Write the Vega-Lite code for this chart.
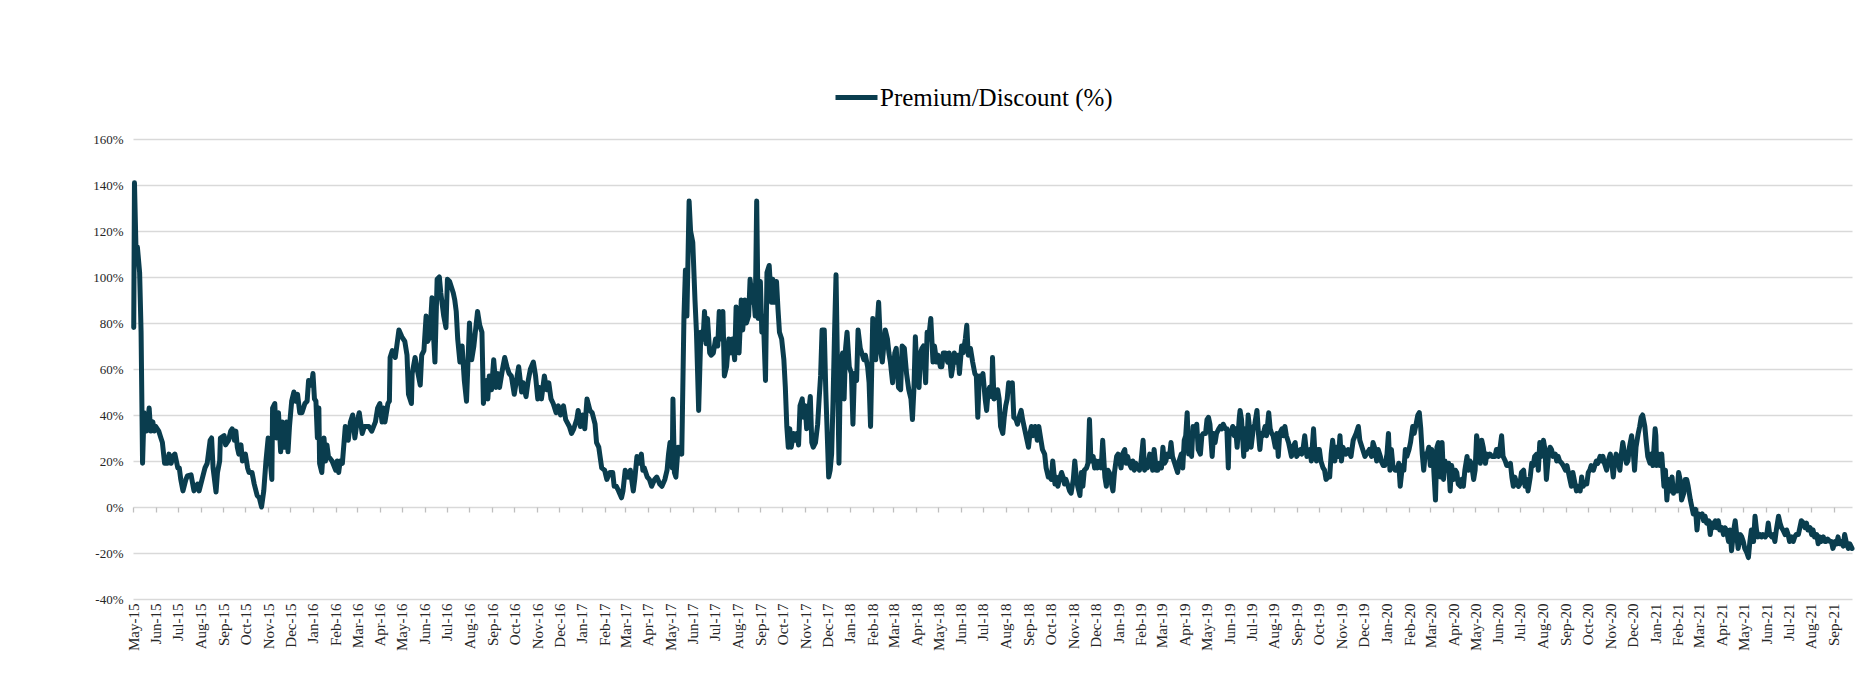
{
  "$schema": "https://vega.github.io/schema/vega-lite/v6.json",
  "width": 1719,
  "height": 460,
  "autosize": {"type": "none"},
  "padding": {"left": 133, "top": 139, "right": 20, "bottom": 82},
  "background": "white",
  "config": {
    "view": {"stroke": null},
    "font": "Liberation Serif"
  },
  "data": {
    "values": [
      {"date": "2015-05-02", "pct": 78}, {"date": "2015-05-03", "pct": 141}, {"date": "2015-05-05", "pct": 113}, {"date": "2015-05-07", "pct": 113},
      {"date": "2015-05-10", "pct": 102}, {"date": "2015-05-12", "pct": 76}, {"date": "2015-05-14", "pct": 19}, {"date": "2015-05-16", "pct": 41},
      {"date": "2015-05-19", "pct": 33}, {"date": "2015-05-21", "pct": 37}, {"date": "2015-05-23", "pct": 43}, {"date": "2015-05-25", "pct": 33},
      {"date": "2015-05-28", "pct": 37}, {"date": "2015-05-30", "pct": 33}, {"date": "2015-06-01", "pct": 35}, {"date": "2015-06-05", "pct": 33},
      {"date": "2015-06-08", "pct": 30}, {"date": "2015-06-10", "pct": 28}, {"date": "2015-06-13", "pct": 19}, {"date": "2015-06-17", "pct": 19},
      {"date": "2015-06-19", "pct": 23}, {"date": "2015-06-22", "pct": 19}, {"date": "2015-06-24", "pct": 22}, {"date": "2015-06-27", "pct": 23},
      {"date": "2015-07-01", "pct": 17}, {"date": "2015-07-03", "pct": 17}, {"date": "2015-07-05", "pct": 12}, {"date": "2015-07-08", "pct": 7},
      {"date": "2015-07-12", "pct": 12}, {"date": "2015-07-14", "pct": 13.5}, {"date": "2015-07-19", "pct": 14}, {"date": "2015-07-23", "pct": 7},
      {"date": "2015-07-28", "pct": 10}, {"date": "2015-07-30", "pct": 7}, {"date": "2015-08-03", "pct": 12}, {"date": "2015-08-07", "pct": 17},
      {"date": "2015-08-10", "pct": 19}, {"date": "2015-08-14", "pct": 29}, {"date": "2015-08-16", "pct": 30}, {"date": "2015-08-18", "pct": 17},
      {"date": "2015-08-22", "pct": 6.5}, {"date": "2015-08-24", "pct": 15}, {"date": "2015-08-27", "pct": 20}, {"date": "2015-08-28", "pct": 30},
      {"date": "2015-09-02", "pct": 31}, {"date": "2015-09-04", "pct": 27}, {"date": "2015-09-08", "pct": 29}, {"date": "2015-09-11", "pct": 33},
      {"date": "2015-09-13", "pct": 34}, {"date": "2015-09-16", "pct": 29}, {"date": "2015-09-18", "pct": 33}, {"date": "2015-09-20", "pct": 26},
      {"date": "2015-09-22", "pct": 23}, {"date": "2015-09-25", "pct": 27}, {"date": "2015-09-27", "pct": 20}, {"date": "2015-10-01", "pct": 23},
      {"date": "2015-10-04", "pct": 17}, {"date": "2015-10-06", "pct": 15}, {"date": "2015-10-10", "pct": 15}, {"date": "2015-10-13", "pct": 10},
      {"date": "2015-10-17", "pct": 5}, {"date": "2015-10-20", "pct": 4}, {"date": "2015-10-23", "pct": 0}, {"date": "2015-10-26", "pct": 7},
      {"date": "2015-10-29", "pct": 20}, {"date": "2015-11-01", "pct": 30}, {"date": "2015-11-03", "pct": 23}, {"date": "2015-11-06", "pct": 12},
      {"date": "2015-11-07", "pct": 43}, {"date": "2015-11-10", "pct": 45}, {"date": "2015-11-12", "pct": 30}, {"date": "2015-11-15", "pct": 41},
      {"date": "2015-11-18", "pct": 24}, {"date": "2015-11-20", "pct": 37}, {"date": "2015-11-23", "pct": 26}, {"date": "2015-11-26", "pct": 37},
      {"date": "2015-11-28", "pct": 24}, {"date": "2015-11-30", "pct": 35}, {"date": "2015-12-03", "pct": 46}, {"date": "2015-12-06", "pct": 50},
      {"date": "2015-12-08", "pct": 46}, {"date": "2015-12-11", "pct": 49}, {"date": "2015-12-14", "pct": 41}, {"date": "2015-12-17", "pct": 41},
      {"date": "2015-12-21", "pct": 45}, {"date": "2015-12-24", "pct": 46}, {"date": "2015-12-26", "pct": 55}, {"date": "2015-12-30", "pct": 53},
      {"date": "2016-01-01", "pct": 58}, {"date": "2016-01-03", "pct": 47}, {"date": "2016-01-05", "pct": 46}, {"date": "2016-01-07", "pct": 30},
      {"date": "2016-01-09", "pct": 43}, {"date": "2016-01-10", "pct": 19}, {"date": "2016-01-13", "pct": 15}, {"date": "2016-01-16", "pct": 30},
      {"date": "2016-01-18", "pct": 20}, {"date": "2016-01-20", "pct": 27}, {"date": "2016-01-22", "pct": 22}, {"date": "2016-01-27", "pct": 20},
      {"date": "2016-02-01", "pct": 16}, {"date": "2016-02-03", "pct": 20}, {"date": "2016-02-05", "pct": 15}, {"date": "2016-02-07", "pct": 20},
      {"date": "2016-02-10", "pct": 19}, {"date": "2016-02-12", "pct": 27}, {"date": "2016-02-14", "pct": 35}, {"date": "2016-02-18", "pct": 29},
      {"date": "2016-02-21", "pct": 37}, {"date": "2016-02-24", "pct": 40}, {"date": "2016-02-27", "pct": 30}, {"date": "2016-03-01", "pct": 37},
      {"date": "2016-03-04", "pct": 41}, {"date": "2016-03-08", "pct": 32}, {"date": "2016-03-11", "pct": 35}, {"date": "2016-03-17", "pct": 35},
      {"date": "2016-03-21", "pct": 33}, {"date": "2016-03-26", "pct": 37}, {"date": "2016-03-29", "pct": 43}, {"date": "2016-04-01", "pct": 45},
      {"date": "2016-04-04", "pct": 37}, {"date": "2016-04-06", "pct": 43}, {"date": "2016-04-08", "pct": 37}, {"date": "2016-04-12", "pct": 45},
      {"date": "2016-04-14", "pct": 46}, {"date": "2016-04-15", "pct": 65}, {"date": "2016-04-18", "pct": 68}, {"date": "2016-04-22", "pct": 65},
      {"date": "2016-04-27", "pct": 77}, {"date": "2016-05-01", "pct": 74}, {"date": "2016-05-05", "pct": 72}, {"date": "2016-05-08", "pct": 66},
      {"date": "2016-05-10", "pct": 49}, {"date": "2016-05-14", "pct": 45}, {"date": "2016-05-15", "pct": 58}, {"date": "2016-05-19", "pct": 65},
      {"date": "2016-05-23", "pct": 58}, {"date": "2016-05-26", "pct": 53}, {"date": "2016-05-28", "pct": 66}, {"date": "2016-05-31", "pct": 68},
      {"date": "2016-06-03", "pct": 83}, {"date": "2016-06-05", "pct": 72}, {"date": "2016-06-08", "pct": 74}, {"date": "2016-06-11", "pct": 91},
      {"date": "2016-06-13", "pct": 75}, {"date": "2016-06-15", "pct": 63}, {"date": "2016-06-18", "pct": 99}, {"date": "2016-06-21", "pct": 100},
      {"date": "2016-06-23", "pct": 93}, {"date": "2016-06-27", "pct": 83}, {"date": "2016-06-30", "pct": 78}, {"date": "2016-07-02", "pct": 99},
      {"date": "2016-07-05", "pct": 98}, {"date": "2016-07-10", "pct": 93}, {"date": "2016-07-12", "pct": 90}, {"date": "2016-07-14", "pct": 85},
      {"date": "2016-07-16", "pct": 73}, {"date": "2016-07-19", "pct": 63}, {"date": "2016-07-22", "pct": 70}, {"date": "2016-07-25", "pct": 55},
      {"date": "2016-07-28", "pct": 46}, {"date": "2016-08-01", "pct": 80}, {"date": "2016-08-04", "pct": 64}, {"date": "2016-08-07", "pct": 70},
      {"date": "2016-08-12", "pct": 85}, {"date": "2016-08-15", "pct": 79}, {"date": "2016-08-18", "pct": 76}, {"date": "2016-08-20", "pct": 45},
      {"date": "2016-08-24", "pct": 55}, {"date": "2016-08-26", "pct": 47}, {"date": "2016-08-28", "pct": 57}, {"date": "2016-08-31", "pct": 51},
      {"date": "2016-09-03", "pct": 64}, {"date": "2016-09-06", "pct": 52}, {"date": "2016-09-09", "pct": 58}, {"date": "2016-09-11", "pct": 52},
      {"date": "2016-09-15", "pct": 60}, {"date": "2016-09-18", "pct": 65}, {"date": "2016-09-21", "pct": 61}, {"date": "2016-09-24", "pct": 58},
      {"date": "2016-09-27", "pct": 57}, {"date": "2016-10-01", "pct": 49}, {"date": "2016-10-04", "pct": 55}, {"date": "2016-10-07", "pct": 61},
      {"date": "2016-10-11", "pct": 50}, {"date": "2016-10-13", "pct": 54}, {"date": "2016-10-17", "pct": 48}, {"date": "2016-10-20", "pct": 55},
      {"date": "2016-10-23", "pct": 60}, {"date": "2016-10-27", "pct": 63}, {"date": "2016-10-30", "pct": 57}, {"date": "2016-11-02", "pct": 47},
      {"date": "2016-11-04", "pct": 52}, {"date": "2016-11-07", "pct": 47}, {"date": "2016-11-11", "pct": 57}, {"date": "2016-11-14", "pct": 51},
      {"date": "2016-11-17", "pct": 54}, {"date": "2016-11-20", "pct": 47}, {"date": "2016-11-23", "pct": 45}, {"date": "2016-11-27", "pct": 41},
      {"date": "2016-11-30", "pct": 44}, {"date": "2016-12-03", "pct": 40}, {"date": "2016-12-07", "pct": 44}, {"date": "2016-12-10", "pct": 38},
      {"date": "2016-12-15", "pct": 35}, {"date": "2016-12-18", "pct": 32}, {"date": "2016-12-21", "pct": 34}, {"date": "2016-12-25", "pct": 38},
      {"date": "2016-12-27", "pct": 42}, {"date": "2016-12-30", "pct": 35}, {"date": "2017-01-02", "pct": 40}, {"date": "2017-01-05", "pct": 34},
      {"date": "2017-01-08", "pct": 47}, {"date": "2017-01-12", "pct": 42}, {"date": "2017-01-15", "pct": 41}, {"date": "2017-01-19", "pct": 36},
      {"date": "2017-01-21", "pct": 28}, {"date": "2017-01-24", "pct": 26}, {"date": "2017-01-28", "pct": 17}, {"date": "2017-02-01", "pct": 16},
      {"date": "2017-02-04", "pct": 12}, {"date": "2017-02-08", "pct": 15}, {"date": "2017-02-12", "pct": 15}, {"date": "2017-02-14", "pct": 9},
      {"date": "2017-02-17", "pct": 9}, {"date": "2017-02-20", "pct": 7}, {"date": "2017-02-24", "pct": 4}, {"date": "2017-02-26", "pct": 7},
      {"date": "2017-03-01", "pct": 16}, {"date": "2017-03-05", "pct": 13}, {"date": "2017-03-08", "pct": 16}, {"date": "2017-03-12", "pct": 7},
      {"date": "2017-03-14", "pct": 12}, {"date": "2017-03-17", "pct": 22}, {"date": "2017-03-20", "pct": 19}, {"date": "2017-03-23", "pct": 23},
      {"date": "2017-03-25", "pct": 16}, {"date": "2017-03-27", "pct": 17}, {"date": "2017-03-31", "pct": 13}, {"date": "2017-04-03", "pct": 12},
      {"date": "2017-04-06", "pct": 9}, {"date": "2017-04-10", "pct": 12}, {"date": "2017-04-13", "pct": 13}, {"date": "2017-04-17", "pct": 10},
      {"date": "2017-04-20", "pct": 9}, {"date": "2017-04-24", "pct": 12}, {"date": "2017-04-27", "pct": 16}, {"date": "2017-04-29", "pct": 23},
      {"date": "2017-05-01", "pct": 28}, {"date": "2017-05-04", "pct": 17}, {"date": "2017-05-05", "pct": 47}, {"date": "2017-05-07", "pct": 15},
      {"date": "2017-05-09", "pct": 13}, {"date": "2017-05-12", "pct": 26}, {"date": "2017-05-14", "pct": 25}, {"date": "2017-05-17", "pct": 23},
      {"date": "2017-05-20", "pct": 83}, {"date": "2017-05-22", "pct": 103}, {"date": "2017-05-24", "pct": 83}, {"date": "2017-05-27", "pct": 133},
      {"date": "2017-05-29", "pct": 120}, {"date": "2017-06-01", "pct": 115}, {"date": "2017-06-04", "pct": 90}, {"date": "2017-06-06", "pct": 76},
      {"date": "2017-06-09", "pct": 42}, {"date": "2017-06-12", "pct": 76}, {"date": "2017-06-15", "pct": 73}, {"date": "2017-06-17", "pct": 85},
      {"date": "2017-06-19", "pct": 71}, {"date": "2017-06-21", "pct": 82}, {"date": "2017-06-24", "pct": 67}, {"date": "2017-06-26", "pct": 66},
      {"date": "2017-06-29", "pct": 67}, {"date": "2017-07-02", "pct": 73}, {"date": "2017-07-05", "pct": 70}, {"date": "2017-07-07", "pct": 85},
      {"date": "2017-07-09", "pct": 73}, {"date": "2017-07-12", "pct": 85}, {"date": "2017-07-14", "pct": 57}, {"date": "2017-07-17", "pct": 61},
      {"date": "2017-07-20", "pct": 73}, {"date": "2017-07-23", "pct": 67}, {"date": "2017-07-25", "pct": 73}, {"date": "2017-07-28", "pct": 64},
      {"date": "2017-07-30", "pct": 87}, {"date": "2017-08-01", "pct": 82}, {"date": "2017-08-03", "pct": 67}, {"date": "2017-08-06", "pct": 90},
      {"date": "2017-08-08", "pct": 77}, {"date": "2017-08-11", "pct": 90}, {"date": "2017-08-13", "pct": 80}, {"date": "2017-08-16", "pct": 83},
      {"date": "2017-08-18", "pct": 99}, {"date": "2017-08-21", "pct": 89}, {"date": "2017-08-22", "pct": 96}, {"date": "2017-08-25", "pct": 83},
      {"date": "2017-08-27", "pct": 133}, {"date": "2017-08-29", "pct": 82}, {"date": "2017-09-01", "pct": 98}, {"date": "2017-09-03", "pct": 76},
      {"date": "2017-09-05", "pct": 83}, {"date": "2017-09-08", "pct": 55}, {"date": "2017-09-10", "pct": 102}, {"date": "2017-09-13", "pct": 105},
      {"date": "2017-09-16", "pct": 89}, {"date": "2017-09-18", "pct": 99}, {"date": "2017-09-20", "pct": 89}, {"date": "2017-09-23", "pct": 98},
      {"date": "2017-09-25", "pct": 86}, {"date": "2017-09-27", "pct": 76}, {"date": "2017-09-30", "pct": 73}, {"date": "2017-10-03", "pct": 64},
      {"date": "2017-10-05", "pct": 52}, {"date": "2017-10-07", "pct": 35}, {"date": "2017-10-09", "pct": 26}, {"date": "2017-10-11", "pct": 34},
      {"date": "2017-10-13", "pct": 26}, {"date": "2017-10-16", "pct": 32}, {"date": "2017-10-18", "pct": 29}, {"date": "2017-10-21", "pct": 32},
      {"date": "2017-10-23", "pct": 27}, {"date": "2017-10-25", "pct": 44}, {"date": "2017-10-28", "pct": 47}, {"date": "2017-10-30", "pct": 39},
      {"date": "2017-11-01", "pct": 44}, {"date": "2017-11-03", "pct": 34}, {"date": "2017-11-05", "pct": 39}, {"date": "2017-11-08", "pct": 48},
      {"date": "2017-11-10", "pct": 28}, {"date": "2017-11-12", "pct": 26}, {"date": "2017-11-15", "pct": 28}, {"date": "2017-11-18", "pct": 36},
      {"date": "2017-11-20", "pct": 47}, {"date": "2017-11-22", "pct": 57}, {"date": "2017-11-24", "pct": 77}, {"date": "2017-11-27", "pct": 77},
      {"date": "2017-11-29", "pct": 51}, {"date": "2017-12-01", "pct": 32}, {"date": "2017-12-03", "pct": 13}, {"date": "2017-12-05", "pct": 16},
      {"date": "2017-12-07", "pct": 23}, {"date": "2017-12-09", "pct": 47}, {"date": "2017-12-11", "pct": 76}, {"date": "2017-12-13", "pct": 101},
      {"date": "2017-12-15", "pct": 61}, {"date": "2017-12-17", "pct": 19}, {"date": "2017-12-19", "pct": 61}, {"date": "2017-12-22", "pct": 67},
      {"date": "2017-12-24", "pct": 47}, {"date": "2017-12-26", "pct": 69}, {"date": "2017-12-28", "pct": 76}, {"date": "2017-12-31", "pct": 61},
      {"date": "2018-01-03", "pct": 58}, {"date": "2018-01-05", "pct": 36}, {"date": "2018-01-07", "pct": 58}, {"date": "2018-01-10", "pct": 55},
      {"date": "2018-01-12", "pct": 77}, {"date": "2018-01-15", "pct": 69}, {"date": "2018-01-17", "pct": 67}, {"date": "2018-01-20", "pct": 64},
      {"date": "2018-01-22", "pct": 66}, {"date": "2018-01-25", "pct": 61}, {"date": "2018-01-27", "pct": 54}, {"date": "2018-01-29", "pct": 35},
      {"date": "2018-02-01", "pct": 82}, {"date": "2018-02-03", "pct": 67}, {"date": "2018-02-05", "pct": 64}, {"date": "2018-02-07", "pct": 79},
      {"date": "2018-02-09", "pct": 89}, {"date": "2018-02-12", "pct": 67}, {"date": "2018-02-14", "pct": 63}, {"date": "2018-02-16", "pct": 70},
      {"date": "2018-02-18", "pct": 77}, {"date": "2018-02-21", "pct": 73}, {"date": "2018-02-23", "pct": 67}, {"date": "2018-02-25", "pct": 63},
      {"date": "2018-02-28", "pct": 54}, {"date": "2018-03-03", "pct": 67}, {"date": "2018-03-05", "pct": 69}, {"date": "2018-03-08", "pct": 52},
      {"date": "2018-03-11", "pct": 51}, {"date": "2018-03-13", "pct": 70}, {"date": "2018-03-16", "pct": 69}, {"date": "2018-03-19", "pct": 58},
      {"date": "2018-03-22", "pct": 51}, {"date": "2018-03-25", "pct": 47}, {"date": "2018-03-27", "pct": 38}, {"date": "2018-03-29", "pct": 51},
      {"date": "2018-03-31", "pct": 74}, {"date": "2018-04-02", "pct": 60}, {"date": "2018-04-05", "pct": 52}, {"date": "2018-04-07", "pct": 67},
      {"date": "2018-04-09", "pct": 69}, {"date": "2018-04-11", "pct": 70}, {"date": "2018-04-14", "pct": 54}, {"date": "2018-04-16", "pct": 76},
      {"date": "2018-04-18", "pct": 73}, {"date": "2018-04-21", "pct": 82}, {"date": "2018-04-24", "pct": 63}, {"date": "2018-04-26", "pct": 70},
      {"date": "2018-04-29", "pct": 63}, {"date": "2018-05-01", "pct": 66}, {"date": "2018-05-04", "pct": 61}, {"date": "2018-05-06", "pct": 61},
      {"date": "2018-05-08", "pct": 67}, {"date": "2018-05-11", "pct": 67}, {"date": "2018-05-14", "pct": 63}, {"date": "2018-05-16", "pct": 67},
      {"date": "2018-05-19", "pct": 57}, {"date": "2018-05-21", "pct": 61}, {"date": "2018-05-23", "pct": 67}, {"date": "2018-05-26", "pct": 63},
      {"date": "2018-05-28", "pct": 66}, {"date": "2018-05-30", "pct": 58}, {"date": "2018-06-02", "pct": 70}, {"date": "2018-06-04", "pct": 67},
      {"date": "2018-06-07", "pct": 73}, {"date": "2018-06-09", "pct": 79}, {"date": "2018-06-11", "pct": 66}, {"date": "2018-06-14", "pct": 69},
      {"date": "2018-06-17", "pct": 63}, {"date": "2018-06-20", "pct": 58}, {"date": "2018-06-22", "pct": 57}, {"date": "2018-06-24", "pct": 39},
      {"date": "2018-06-26", "pct": 57}, {"date": "2018-06-28", "pct": 55}, {"date": "2018-07-01", "pct": 58}, {"date": "2018-07-04", "pct": 47},
      {"date": "2018-07-06", "pct": 42}, {"date": "2018-07-08", "pct": 50}, {"date": "2018-07-10", "pct": 52}, {"date": "2018-07-13", "pct": 48},
      {"date": "2018-07-14", "pct": 65}, {"date": "2018-07-16", "pct": 47}, {"date": "2018-07-19", "pct": 48}, {"date": "2018-07-21", "pct": 51},
      {"date": "2018-07-23", "pct": 47}, {"date": "2018-07-25", "pct": 35}, {"date": "2018-07-28", "pct": 32}, {"date": "2018-07-30", "pct": 39},
      {"date": "2018-08-01", "pct": 44}, {"date": "2018-08-03", "pct": 47}, {"date": "2018-08-05", "pct": 54}, {"date": "2018-08-07", "pct": 51},
      {"date": "2018-08-10", "pct": 54}, {"date": "2018-08-12", "pct": 39}, {"date": "2018-08-15", "pct": 38}, {"date": "2018-08-17", "pct": 36},
      {"date": "2018-08-19", "pct": 39}, {"date": "2018-08-22", "pct": 42}, {"date": "2018-08-24", "pct": 38}, {"date": "2018-08-26", "pct": 35},
      {"date": "2018-08-28", "pct": 32}, {"date": "2018-09-01", "pct": 26}, {"date": "2018-09-03", "pct": 32}, {"date": "2018-09-05", "pct": 35},
      {"date": "2018-09-07", "pct": 31}, {"date": "2018-09-10", "pct": 35}, {"date": "2018-09-13", "pct": 29}, {"date": "2018-09-15", "pct": 35},
      {"date": "2018-09-18", "pct": 29}, {"date": "2018-09-20", "pct": 25}, {"date": "2018-09-23", "pct": 23}, {"date": "2018-09-25", "pct": 17},
      {"date": "2018-09-28", "pct": 13}, {"date": "2018-09-30", "pct": 13}, {"date": "2018-10-02", "pct": 12}, {"date": "2018-10-04", "pct": 20},
      {"date": "2018-10-07", "pct": 10}, {"date": "2018-10-09", "pct": 13}, {"date": "2018-10-11", "pct": 9}, {"date": "2018-10-13", "pct": 12},
      {"date": "2018-10-16", "pct": 15}, {"date": "2018-10-18", "pct": 13}, {"date": "2018-10-20", "pct": 10}, {"date": "2018-10-22", "pct": 12},
      {"date": "2018-10-25", "pct": 9}, {"date": "2018-10-27", "pct": 7}, {"date": "2018-10-29", "pct": 6}, {"date": "2018-11-01", "pct": 12},
      {"date": "2018-11-03", "pct": 20}, {"date": "2018-11-05", "pct": 13}, {"date": "2018-11-07", "pct": 9}, {"date": "2018-11-10", "pct": 5},
      {"date": "2018-11-12", "pct": 15}, {"date": "2018-11-14", "pct": 9}, {"date": "2018-11-16", "pct": 16}, {"date": "2018-11-19", "pct": 17},
      {"date": "2018-11-21", "pct": 19}, {"date": "2018-11-23", "pct": 38}, {"date": "2018-11-25", "pct": 20}, {"date": "2018-11-28", "pct": 22},
      {"date": "2018-11-30", "pct": 17}, {"date": "2018-12-02", "pct": 20}, {"date": "2018-12-04", "pct": 17}, {"date": "2018-12-07", "pct": 20},
      {"date": "2018-12-09", "pct": 17}, {"date": "2018-12-11", "pct": 29}, {"date": "2018-12-14", "pct": 13}, {"date": "2018-12-16", "pct": 9},
      {"date": "2018-12-18", "pct": 16}, {"date": "2018-12-20", "pct": 15}, {"date": "2018-12-23", "pct": 10}, {"date": "2018-12-25", "pct": 7},
      {"date": "2018-12-27", "pct": 15}, {"date": "2018-12-30", "pct": 22}, {"date": "2019-01-01", "pct": 23}, {"date": "2019-01-03", "pct": 20},
      {"date": "2019-01-05", "pct": 17}, {"date": "2019-01-07", "pct": 23}, {"date": "2019-01-10", "pct": 25}, {"date": "2019-01-12", "pct": 19},
      {"date": "2019-01-14", "pct": 22}, {"date": "2019-01-16", "pct": 19}, {"date": "2019-01-19", "pct": 17}, {"date": "2019-01-21", "pct": 20},
      {"date": "2019-01-23", "pct": 16}, {"date": "2019-01-25", "pct": 19}, {"date": "2019-01-28", "pct": 17}, {"date": "2019-01-30", "pct": 16},
      {"date": "2019-02-01", "pct": 19}, {"date": "2019-02-04", "pct": 29}, {"date": "2019-02-06", "pct": 16}, {"date": "2019-02-08", "pct": 20},
      {"date": "2019-02-10", "pct": 17}, {"date": "2019-02-13", "pct": 23}, {"date": "2019-02-15", "pct": 22}, {"date": "2019-02-17", "pct": 16},
      {"date": "2019-02-19", "pct": 25}, {"date": "2019-02-22", "pct": 16}, {"date": "2019-02-24", "pct": 16}, {"date": "2019-02-26", "pct": 19},
      {"date": "2019-03-01", "pct": 17}, {"date": "2019-03-03", "pct": 26}, {"date": "2019-03-05", "pct": 19}, {"date": "2019-03-07", "pct": 20},
      {"date": "2019-03-09", "pct": 23}, {"date": "2019-03-12", "pct": 22}, {"date": "2019-03-14", "pct": 28}, {"date": "2019-03-16", "pct": 22},
      {"date": "2019-03-19", "pct": 19}, {"date": "2019-03-21", "pct": 17}, {"date": "2019-03-23", "pct": 15}, {"date": "2019-03-25", "pct": 20},
      {"date": "2019-03-28", "pct": 23}, {"date": "2019-03-30", "pct": 17}, {"date": "2019-04-01", "pct": 29}, {"date": "2019-04-03", "pct": 31},
      {"date": "2019-04-05", "pct": 41}, {"date": "2019-04-07", "pct": 23}, {"date": "2019-04-09", "pct": 32}, {"date": "2019-04-11", "pct": 22},
      {"date": "2019-04-13", "pct": 35}, {"date": "2019-04-16", "pct": 32}, {"date": "2019-04-18", "pct": 36}, {"date": "2019-04-20", "pct": 25},
      {"date": "2019-04-23", "pct": 23}, {"date": "2019-04-25", "pct": 31}, {"date": "2019-04-27", "pct": 32}, {"date": "2019-04-30", "pct": 32},
      {"date": "2019-05-02", "pct": 38}, {"date": "2019-05-04", "pct": 39}, {"date": "2019-05-06", "pct": 36}, {"date": "2019-05-09", "pct": 22},
      {"date": "2019-05-11", "pct": 32}, {"date": "2019-05-13", "pct": 28}, {"date": "2019-05-15", "pct": 32}, {"date": "2019-05-18", "pct": 34},
      {"date": "2019-05-20", "pct": 35}, {"date": "2019-05-22", "pct": 34}, {"date": "2019-05-24", "pct": 36}, {"date": "2019-05-27", "pct": 34},
      {"date": "2019-05-29", "pct": 34}, {"date": "2019-05-31", "pct": 17}, {"date": "2019-06-01", "pct": 31}, {"date": "2019-06-03", "pct": 32},
      {"date": "2019-06-06", "pct": 35}, {"date": "2019-06-08", "pct": 31}, {"date": "2019-06-10", "pct": 34}, {"date": "2019-06-12", "pct": 26},
      {"date": "2019-06-15", "pct": 39}, {"date": "2019-06-16", "pct": 42}, {"date": "2019-06-18", "pct": 38}, {"date": "2019-06-21", "pct": 22},
      {"date": "2019-06-22", "pct": 34}, {"date": "2019-06-25", "pct": 25}, {"date": "2019-06-27", "pct": 40}, {"date": "2019-06-29", "pct": 34},
      {"date": "2019-07-01", "pct": 26}, {"date": "2019-07-04", "pct": 34}, {"date": "2019-07-06", "pct": 36}, {"date": "2019-07-09", "pct": 42},
      {"date": "2019-07-11", "pct": 32}, {"date": "2019-07-13", "pct": 25}, {"date": "2019-07-15", "pct": 32}, {"date": "2019-07-17", "pct": 31},
      {"date": "2019-07-20", "pct": 35}, {"date": "2019-07-22", "pct": 31}, {"date": "2019-07-25", "pct": 41}, {"date": "2019-07-27", "pct": 34},
      {"date": "2019-07-29", "pct": 32}, {"date": "2019-07-31", "pct": 31}, {"date": "2019-08-03", "pct": 26}, {"date": "2019-08-05", "pct": 32},
      {"date": "2019-08-07", "pct": 22}, {"date": "2019-08-09", "pct": 32}, {"date": "2019-08-12", "pct": 34}, {"date": "2019-08-14", "pct": 31},
      {"date": "2019-08-16", "pct": 35}, {"date": "2019-08-18", "pct": 31}, {"date": "2019-08-21", "pct": 28}, {"date": "2019-08-23", "pct": 25},
      {"date": "2019-08-25", "pct": 22}, {"date": "2019-08-27", "pct": 26}, {"date": "2019-08-30", "pct": 28}, {"date": "2019-09-01", "pct": 22},
      {"date": "2019-09-03", "pct": 23}, {"date": "2019-09-06", "pct": 25}, {"date": "2019-09-08", "pct": 23}, {"date": "2019-09-10", "pct": 26},
      {"date": "2019-09-12", "pct": 31}, {"date": "2019-09-15", "pct": 22}, {"date": "2019-09-17", "pct": 23}, {"date": "2019-09-19", "pct": 25},
      {"date": "2019-09-21", "pct": 20}, {"date": "2019-09-24", "pct": 34}, {"date": "2019-09-26", "pct": 23}, {"date": "2019-09-28", "pct": 20},
      {"date": "2019-09-30", "pct": 25}, {"date": "2019-10-02", "pct": 25}, {"date": "2019-10-04", "pct": 20}, {"date": "2019-10-07", "pct": 17},
      {"date": "2019-10-09", "pct": 16}, {"date": "2019-10-11", "pct": 12}, {"date": "2019-10-14", "pct": 13}, {"date": "2019-10-16", "pct": 13},
      {"date": "2019-10-18", "pct": 23}, {"date": "2019-10-20", "pct": 29}, {"date": "2019-10-23", "pct": 20}, {"date": "2019-10-25", "pct": 26},
      {"date": "2019-10-28", "pct": 22}, {"date": "2019-10-30", "pct": 31}, {"date": "2019-11-01", "pct": 20}, {"date": "2019-11-03", "pct": 26},
      {"date": "2019-11-07", "pct": 23}, {"date": "2019-11-10", "pct": 25}, {"date": "2019-11-14", "pct": 22}, {"date": "2019-11-17", "pct": 29},
      {"date": "2019-11-21", "pct": 32}, {"date": "2019-11-24", "pct": 35}, {"date": "2019-11-26", "pct": 29}, {"date": "2019-11-29", "pct": 26},
      {"date": "2019-12-03", "pct": 22}, {"date": "2019-12-05", "pct": 23}, {"date": "2019-12-09", "pct": 25}, {"date": "2019-12-12", "pct": 22},
      {"date": "2019-12-14", "pct": 28}, {"date": "2019-12-16", "pct": 26}, {"date": "2019-12-19", "pct": 20}, {"date": "2019-12-21", "pct": 25},
      {"date": "2019-12-24", "pct": 22}, {"date": "2019-12-25", "pct": 20}, {"date": "2019-12-28", "pct": 18}, {"date": "2019-12-30", "pct": 18},
      {"date": "2020-01-02", "pct": 23}, {"date": "2020-01-04", "pct": 32}, {"date": "2020-01-06", "pct": 16}, {"date": "2020-01-08", "pct": 25},
      {"date": "2020-01-10", "pct": 18}, {"date": "2020-01-13", "pct": 16}, {"date": "2020-01-16", "pct": 16}, {"date": "2020-01-18", "pct": 19},
      {"date": "2020-01-20", "pct": 9}, {"date": "2020-01-23", "pct": 18}, {"date": "2020-01-25", "pct": 16}, {"date": "2020-01-27", "pct": 25},
      {"date": "2020-01-29", "pct": 22}, {"date": "2020-02-01", "pct": 25}, {"date": "2020-02-03", "pct": 28}, {"date": "2020-02-06", "pct": 35},
      {"date": "2020-02-08", "pct": 32}, {"date": "2020-02-10", "pct": 35}, {"date": "2020-02-13", "pct": 40}, {"date": "2020-02-15", "pct": 41},
      {"date": "2020-02-17", "pct": 34}, {"date": "2020-02-19", "pct": 23}, {"date": "2020-02-21", "pct": 16}, {"date": "2020-02-23", "pct": 23},
      {"date": "2020-02-25", "pct": 22}, {"date": "2020-02-28", "pct": 26}, {"date": "2020-03-01", "pct": 18}, {"date": "2020-03-03", "pct": 25},
      {"date": "2020-03-05", "pct": 20}, {"date": "2020-03-08", "pct": 3}, {"date": "2020-03-10", "pct": 26}, {"date": "2020-03-12", "pct": 28},
      {"date": "2020-03-15", "pct": 13}, {"date": "2020-03-17", "pct": 28}, {"date": "2020-03-19", "pct": 12}, {"date": "2020-03-21", "pct": 20},
      {"date": "2020-03-24", "pct": 16}, {"date": "2020-03-26", "pct": 19}, {"date": "2020-03-28", "pct": 7}, {"date": "2020-03-30", "pct": 18},
      {"date": "2020-04-02", "pct": 12}, {"date": "2020-04-04", "pct": 16}, {"date": "2020-04-06", "pct": 15}, {"date": "2020-04-08", "pct": 10},
      {"date": "2020-04-11", "pct": 9}, {"date": "2020-04-13", "pct": 12}, {"date": "2020-04-15", "pct": 9}, {"date": "2020-04-17", "pct": 16},
      {"date": "2020-04-20", "pct": 22}, {"date": "2020-04-22", "pct": 16}, {"date": "2020-04-24", "pct": 20}, {"date": "2020-04-26", "pct": 19},
      {"date": "2020-04-29", "pct": 12}, {"date": "2020-05-01", "pct": 16}, {"date": "2020-05-03", "pct": 31}, {"date": "2020-05-06", "pct": 25},
      {"date": "2020-05-08", "pct": 19}, {"date": "2020-05-10", "pct": 29}, {"date": "2020-05-12", "pct": 26}, {"date": "2020-05-15", "pct": 19},
      {"date": "2020-05-17", "pct": 23}, {"date": "2020-05-19", "pct": 22}, {"date": "2020-05-21", "pct": 23}, {"date": "2020-05-24", "pct": 22},
      {"date": "2020-05-26", "pct": 22}, {"date": "2020-05-28", "pct": 22}, {"date": "2020-05-30", "pct": 25}, {"date": "2020-06-02", "pct": 22},
      {"date": "2020-06-04", "pct": 26}, {"date": "2020-06-06", "pct": 31}, {"date": "2020-06-08", "pct": 22}, {"date": "2020-06-11", "pct": 20},
      {"date": "2020-06-13", "pct": 18}, {"date": "2020-06-15", "pct": 18}, {"date": "2020-06-18", "pct": 19}, {"date": "2020-06-20", "pct": 13},
      {"date": "2020-06-22", "pct": 9}, {"date": "2020-06-24", "pct": 13}, {"date": "2020-06-27", "pct": 10}, {"date": "2020-06-29", "pct": 9},
      {"date": "2020-07-01", "pct": 10}, {"date": "2020-07-03", "pct": 15}, {"date": "2020-07-06", "pct": 16}, {"date": "2020-07-08", "pct": 9},
      {"date": "2020-07-10", "pct": 12}, {"date": "2020-07-12", "pct": 7}, {"date": "2020-07-15", "pct": 13}, {"date": "2020-07-17", "pct": 19},
      {"date": "2020-07-19", "pct": 18}, {"date": "2020-07-21", "pct": 22}, {"date": "2020-07-24", "pct": 23}, {"date": "2020-07-26", "pct": 16},
      {"date": "2020-07-28", "pct": 28}, {"date": "2020-07-30", "pct": 22}, {"date": "2020-08-02", "pct": 29}, {"date": "2020-08-04", "pct": 25},
      {"date": "2020-08-06", "pct": 12}, {"date": "2020-08-09", "pct": 23}, {"date": "2020-08-11", "pct": 26}, {"date": "2020-08-13", "pct": 25},
      {"date": "2020-08-15", "pct": 22}, {"date": "2020-08-18", "pct": 23}, {"date": "2020-08-20", "pct": 20}, {"date": "2020-08-22", "pct": 22},
      {"date": "2020-08-24", "pct": 20}, {"date": "2020-08-27", "pct": 19}, {"date": "2020-08-29", "pct": 18}, {"date": "2020-09-01", "pct": 16},
      {"date": "2020-09-03", "pct": 18}, {"date": "2020-09-05", "pct": 15}, {"date": "2020-09-07", "pct": 12}, {"date": "2020-09-09", "pct": 9},
      {"date": "2020-09-11", "pct": 15}, {"date": "2020-09-14", "pct": 10}, {"date": "2020-09-16", "pct": 7}, {"date": "2020-09-18", "pct": 9},
      {"date": "2020-09-21", "pct": 7}, {"date": "2020-09-23", "pct": 13}, {"date": "2020-09-25", "pct": 9}, {"date": "2020-09-27", "pct": 10},
      {"date": "2020-09-30", "pct": 10}, {"date": "2020-10-02", "pct": 15}, {"date": "2020-10-04", "pct": 16}, {"date": "2020-10-06", "pct": 18},
      {"date": "2020-10-09", "pct": 16}, {"date": "2020-10-11", "pct": 18}, {"date": "2020-10-13", "pct": 20}, {"date": "2020-10-15", "pct": 19},
      {"date": "2020-10-18", "pct": 22}, {"date": "2020-10-20", "pct": 20}, {"date": "2020-10-22", "pct": 22}, {"date": "2020-10-24", "pct": 19},
      {"date": "2020-10-27", "pct": 16}, {"date": "2020-10-29", "pct": 20}, {"date": "2020-11-01", "pct": 23}, {"date": "2020-11-03", "pct": 19},
      {"date": "2020-11-05", "pct": 13}, {"date": "2020-11-07", "pct": 20}, {"date": "2020-11-09", "pct": 23}, {"date": "2020-11-12", "pct": 19},
      {"date": "2020-11-14", "pct": 16}, {"date": "2020-11-16", "pct": 23}, {"date": "2020-11-18", "pct": 28}, {"date": "2020-11-21", "pct": 22},
      {"date": "2020-11-23", "pct": 19}, {"date": "2020-11-25", "pct": 20}, {"date": "2020-11-27", "pct": 26}, {"date": "2020-11-30", "pct": 31},
      {"date": "2020-12-02", "pct": 25}, {"date": "2020-12-04", "pct": 16}, {"date": "2020-12-06", "pct": 26}, {"date": "2020-12-09", "pct": 32},
      {"date": "2020-12-11", "pct": 35}, {"date": "2020-12-13", "pct": 39}, {"date": "2020-12-15", "pct": 40}, {"date": "2020-12-18", "pct": 35},
      {"date": "2020-12-20", "pct": 28}, {"date": "2020-12-22", "pct": 22}, {"date": "2020-12-25", "pct": 19}, {"date": "2020-12-27", "pct": 23},
      {"date": "2020-12-29", "pct": 18}, {"date": "2021-01-01", "pct": 34}, {"date": "2021-01-02", "pct": 31}, {"date": "2021-01-03", "pct": 18},
      {"date": "2021-01-06", "pct": 23}, {"date": "2021-01-08", "pct": 18}, {"date": "2021-01-10", "pct": 23}, {"date": "2021-01-13", "pct": 9},
      {"date": "2021-01-15", "pct": 16}, {"date": "2021-01-17", "pct": 3}, {"date": "2021-01-19", "pct": 12}, {"date": "2021-01-22", "pct": 7},
      {"date": "2021-01-24", "pct": 13}, {"date": "2021-01-26", "pct": 6}, {"date": "2021-01-28", "pct": 9}, {"date": "2021-01-31", "pct": 7},
      {"date": "2021-02-02", "pct": 15}, {"date": "2021-02-04", "pct": 12}, {"date": "2021-02-06", "pct": 3}, {"date": "2021-02-09", "pct": 6},
      {"date": "2021-02-11", "pct": 12}, {"date": "2021-02-13", "pct": 12}, {"date": "2021-02-15", "pct": 9}, {"date": "2021-02-18", "pct": 3},
      {"date": "2021-02-20", "pct": 0}, {"date": "2021-02-22", "pct": -3}, {"date": "2021-02-25", "pct": -1}, {"date": "2021-02-27", "pct": -10},
      {"date": "2021-03-01", "pct": -3}, {"date": "2021-03-03", "pct": -4}, {"date": "2021-03-06", "pct": -3}, {"date": "2021-03-08", "pct": -6},
      {"date": "2021-03-10", "pct": -4}, {"date": "2021-03-12", "pct": -7}, {"date": "2021-03-15", "pct": -6}, {"date": "2021-03-17", "pct": -12},
      {"date": "2021-03-19", "pct": -7}, {"date": "2021-03-21", "pct": -9}, {"date": "2021-03-24", "pct": -6}, {"date": "2021-03-26", "pct": -9},
      {"date": "2021-03-28", "pct": -6}, {"date": "2021-03-30", "pct": -10}, {"date": "2021-04-02", "pct": -9}, {"date": "2021-04-04", "pct": -12},
      {"date": "2021-04-06", "pct": -9}, {"date": "2021-04-08", "pct": -10}, {"date": "2021-04-11", "pct": -15}, {"date": "2021-04-13", "pct": -10},
      {"date": "2021-04-15", "pct": -19}, {"date": "2021-04-18", "pct": -10}, {"date": "2021-04-20", "pct": -6}, {"date": "2021-04-22", "pct": -12},
      {"date": "2021-04-24", "pct": -18}, {"date": "2021-04-27", "pct": -12}, {"date": "2021-04-29", "pct": -13}, {"date": "2021-05-01", "pct": -15},
      {"date": "2021-05-03", "pct": -18}, {"date": "2021-05-06", "pct": -20}, {"date": "2021-05-08", "pct": -22}, {"date": "2021-05-10", "pct": -15},
      {"date": "2021-05-12", "pct": -10}, {"date": "2021-05-15", "pct": -15}, {"date": "2021-05-17", "pct": -4}, {"date": "2021-05-19", "pct": -10},
      {"date": "2021-05-21", "pct": -13}, {"date": "2021-05-24", "pct": -12}, {"date": "2021-05-26", "pct": -13}, {"date": "2021-05-28", "pct": -12},
      {"date": "2021-05-31", "pct": -13}, {"date": "2021-06-02", "pct": -12}, {"date": "2021-06-04", "pct": -7}, {"date": "2021-06-06", "pct": -12},
      {"date": "2021-06-09", "pct": -13}, {"date": "2021-06-11", "pct": -12}, {"date": "2021-06-13", "pct": -15}, {"date": "2021-06-15", "pct": -10},
      {"date": "2021-06-18", "pct": -4}, {"date": "2021-06-20", "pct": -7}, {"date": "2021-06-22", "pct": -9}, {"date": "2021-06-24", "pct": -10},
      {"date": "2021-06-27", "pct": -12}, {"date": "2021-06-29", "pct": -10}, {"date": "2021-07-01", "pct": -12}, {"date": "2021-07-03", "pct": -15},
      {"date": "2021-07-06", "pct": -13}, {"date": "2021-07-08", "pct": -15}, {"date": "2021-07-10", "pct": -13}, {"date": "2021-07-12", "pct": -12},
      {"date": "2021-07-15", "pct": -12}, {"date": "2021-07-17", "pct": -9}, {"date": "2021-07-19", "pct": -6}, {"date": "2021-07-22", "pct": -7},
      {"date": "2021-07-24", "pct": -9}, {"date": "2021-07-26", "pct": -7}, {"date": "2021-07-28", "pct": -10}, {"date": "2021-07-31", "pct": -9},
      {"date": "2021-08-02", "pct": -12}, {"date": "2021-08-04", "pct": -10}, {"date": "2021-08-06", "pct": -13}, {"date": "2021-08-09", "pct": -12},
      {"date": "2021-08-11", "pct": -16}, {"date": "2021-08-13", "pct": -13}, {"date": "2021-08-15", "pct": -15}, {"date": "2021-08-18", "pct": -13},
      {"date": "2021-08-20", "pct": -15}, {"date": "2021-08-22", "pct": -15}, {"date": "2021-08-24", "pct": -14}, {"date": "2021-08-27", "pct": -15},
      {"date": "2021-08-29", "pct": -15}, {"date": "2021-08-31", "pct": -18}, {"date": "2021-09-03", "pct": -15}, {"date": "2021-09-05", "pct": -16},
      {"date": "2021-09-07", "pct": -13}, {"date": "2021-09-09", "pct": -16}, {"date": "2021-09-12", "pct": -15}, {"date": "2021-09-14", "pct": -17},
      {"date": "2021-09-16", "pct": -12}, {"date": "2021-09-18", "pct": -15}, {"date": "2021-09-21", "pct": -18}, {"date": "2021-09-23", "pct": -16},
      {"date": "2021-09-26", "pct": -18}
    ]
  },
  "encoding": {
    "y": {
      "field": "pct",
      "type": "quantitative",
      "scale": {"domain": [-40, 160], "nice": false, "zero": false},
      "axis": {
        "title": null,
        "values": [-40, -20, 0, 20, 40, 60, 80, 100, 120, 140, 160],
        "labelExpr": "datum.value + '%'",
        "labelFont": "Liberation Serif",
        "labelFontSize": 13,
        "labelColor": "#262626",
        "labelPadding": 10,
        "ticks": false,
        "domain": false,
        "grid": true,
        "gridColor": "#d9d9d9",
        "gridWidth": 1.5
      }
    }
  },
  "layer": [
    {
      "mark": {"type": "line", "strokeOpacity": 0, "strokeWidth": 1},
      "encoding": {
        "x": {
          "field": "date",
          "type": "temporal",
          "scale": {
            "type": "utc",
            "domain": [
              {"year": 2015, "month": 5, "date": 1, "utc": true},
              {"year": 2021, "month": 9, "date": 26, "utc": true}
            ]
          },
          "axis": {
            "orient": "bottom",
            "offset": -92,
            "title": null,
            "labels": false,
            "ticks": true,
            "tickSize": 5,
            "tickWidth": 1.3,
            "tickColor": "#bfbfbf",
            "domain": false,
            "grid": false,
            "tickCount": {"interval": "month", "step": 1}
          }
        }
      }
    },
    {
      "mark": {"type": "line", "strokeWidth": 5, "strokeJoin": "round", "strokeCap": "round"},
      "encoding": {
        "x": {
          "field": "date",
          "type": "temporal",
          "scale": {
            "type": "utc",
            "domain": [
              {"year": 2015, "month": 5, "date": 1, "utc": true},
              {"year": 2021, "month": 9, "date": 26, "utc": true}
            ]
          },
          "axis": {
            "orient": "bottom",
            "title": null,
            "labelExpr": "utcFormat(datum.value, '%b-%y')",
            "labelAngle": -90,
            "labelFont": "Liberation Serif",
            "labelFontSize": 15,
            "labelColor": "#262626",
            "labelPadding": 4,
            "labelOverlap": false,
            "labelFlush": false,
            "labelBound": false,
            "ticks": false,
            "domain": false,
            "grid": false,
            "tickCount": {"interval": "month", "step": 1}
          }
        },
        "color": {
          "datum": "Premium/Discount (%)",
          "type": "nominal",
          "scale": {"range": ["#0a3d4e"]},
          "legend": {
            "orient": "none",
            "legendX": 700,
            "legendY": -65,
            "title": null,
            "padding": 0,
            "labelFont": "Liberation Serif",
            "labelFontSize": 25,
            "labelLimit": 500,
            "labelColor": "#000000",
            "labelOffset": 0,
            "symbolType": "stroke",
            "symbolSize": 1764,
            "symbolStrokeWidth": 5
          }
        }
      }
    }
  ],
  "resolve": {"axis": {"x": "independent"}}
}
